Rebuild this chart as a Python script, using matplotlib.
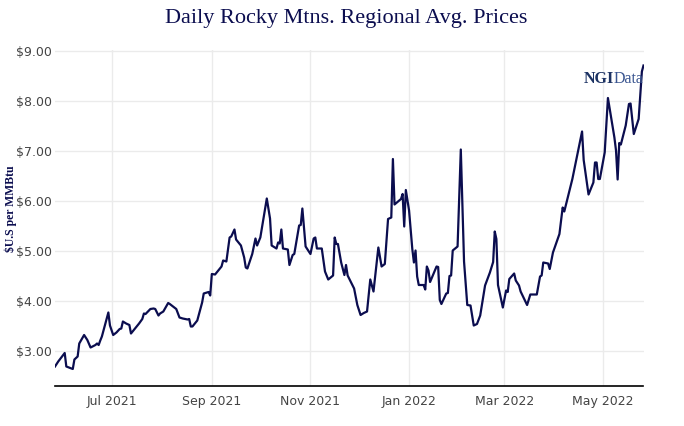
import numpy as np
import pandas as pd
import matplotlib
matplotlib.use("Agg")
import matplotlib.pyplot as plt
import matplotlib.dates as mdates
from matplotlib.ticker import FuncFormatter

# price points (date, $/MMBtu)
dates = [
    "2021-05-27", "2021-05-29", "2021-06-02", "2021-06-03", "2021-06-07", "2021-06-08",
    "2021-06-10", "2021-06-11", "2021-06-14", "2021-06-16", "2021-06-18", "2021-06-21",
    "2021-06-22", "2021-06-23", "2021-06-24", "2021-06-25", "2021-06-29", "2021-06-30",
    "2021-07-02", "2021-07-04", "2021-07-06", "2021-07-07", "2021-07-08", "2021-07-10",
    "2021-07-12", "2021-07-13", "2021-07-14", "2021-07-16", "2021-07-18", "2021-07-20",
    "2021-07-21", "2021-07-22", "2021-07-25", "2021-07-27", "2021-07-28", "2021-07-30",
    "2021-07-31", "2021-08-02", "2021-08-05", "2021-08-06", "2021-08-08", "2021-08-10",
    "2021-08-12", "2021-08-14", "2021-08-17", "2021-08-18", "2021-08-19", "2021-08-20",
    "2021-08-23", "2021-08-26", "2021-08-27", "2021-08-30", "2021-08-31", "2021-09-01",
    "2021-09-03", "2021-09-05", "2021-09-07", "2021-09-08", "2021-09-10", "2021-09-12",
    "2021-09-13", "2021-09-15", "2021-09-16", "2021-09-19", "2021-09-21", "2021-09-22",
    "2021-09-23", "2021-09-26", "2021-09-28", "2021-09-29", "2021-09-30", "2021-10-01",
    "2021-10-05", "2021-10-07", "2021-10-08", "2021-10-11", "2021-10-12", "2021-10-13",
    "2021-10-14", "2021-10-15", "2021-10-18", "2021-10-19", "2021-10-21", "2021-10-22",
    "2021-10-25", "2021-10-26", "2021-10-27", "2021-10-29", "2021-11-01", "2021-11-03",
    "2021-11-04", "2021-11-05", "2021-11-08", "2021-11-10", "2021-11-12", "2021-11-15",
    "2021-11-16", "2021-11-17", "2021-11-18", "2021-11-20", "2021-11-22", "2021-11-23",
    "2021-11-24", "2021-11-28", "2021-11-30", "2021-12-02", "2021-12-04", "2021-12-06",
    "2021-12-08", "2021-12-10", "2021-12-13", "2021-12-15", "2021-12-17", "2021-12-19",
    "2021-12-21", "2021-12-22", "2021-12-23", "2021-12-27", "2021-12-28", "2021-12-29",
    "2021-12-30", "2022-01-01", "2022-01-03", "2022-01-04", "2022-01-05", "2022-01-06",
    "2022-01-07", "2022-01-10", "2022-01-11", "2022-01-12", "2022-01-13", "2022-01-14",
    "2022-01-18", "2022-01-19", "2022-01-20", "2022-01-21", "2022-01-24", "2022-01-25",
    "2022-01-26", "2022-01-27", "2022-01-28", "2022-01-31", "2022-02-02", "2022-02-04",
    "2022-02-06", "2022-02-08", "2022-02-10", "2022-02-12", "2022-02-14", "2022-02-17",
    "2022-02-20", "2022-02-22", "2022-02-23", "2022-02-24", "2022-02-25", "2022-02-28",
    "2022-03-02", "2022-03-03", "2022-03-04", "2022-03-07", "2022-03-08", "2022-03-10",
    "2022-03-11", "2022-03-15", "2022-03-17", "2022-03-21", "2022-03-23", "2022-03-24",
    "2022-03-25", "2022-03-28", "2022-03-29", "2022-03-31", "2022-04-04", "2022-04-06",
    "2022-04-07", "2022-04-12", "2022-04-18", "2022-04-19", "2022-04-22", "2022-04-25",
    "2022-04-26", "2022-04-27", "2022-04-28", "2022-04-29", "2022-05-02", "2022-05-04",
    "2022-05-08", "2022-05-09", "2022-05-10", "2022-05-11", "2022-05-12", "2022-05-15",
    "2022-05-17", "2022-05-18", "2022-05-20", "2022-05-23", "2022-05-25", "2022-05-26",
]
prices = [
    2.68, 2.78, 2.95, 2.68, 2.63, 2.82,
    2.88, 3.14, 3.31, 3.21, 3.06, 3.11,
    3.14, 3.11, 3.20, 3.28, 3.76, 3.50,
    3.31, 3.36, 3.43, 3.44, 3.58, 3.54,
    3.51, 3.34, 3.38, 3.46, 3.54, 3.63,
    3.74, 3.73, 3.83, 3.84, 3.83, 3.70,
    3.74, 3.78, 3.95, 3.93, 3.88, 3.83,
    3.66, 3.64, 3.62, 3.63, 3.48, 3.48,
    3.60, 3.96, 4.14, 4.17, 4.10, 4.53,
    4.52, 4.60, 4.68, 4.80, 4.78, 5.26,
    5.28, 5.42, 5.22, 5.10, 4.86, 4.66,
    4.64, 4.93, 5.24, 5.10, 5.18, 5.26,
    6.04, 5.64, 5.10, 5.04, 5.16, 5.14,
    5.42, 5.04, 5.02, 4.71, 4.91, 4.93,
    5.50, 5.51, 5.84, 5.08, 4.93, 5.24,
    5.26, 5.04, 5.04, 4.58, 4.42, 4.50,
    5.26, 5.13, 5.13, 4.76, 4.51, 4.71,
    4.50, 4.24, 3.91, 3.71, 3.75, 3.78,
    4.42, 4.18, 5.06, 4.68, 4.73, 5.63,
    5.66, 6.83, 5.92, 6.03, 6.13, 5.48,
    6.21, 5.80, 5.03, 4.76, 5.00, 4.48,
    4.31, 4.31, 4.22, 4.68, 4.60, 4.37,
    4.68, 4.67, 4.01, 3.93, 4.14, 4.15,
    4.49, 4.50, 5.00, 5.08, 7.02, 4.78,
    3.91, 3.90, 3.50, 3.53, 3.70, 4.30,
    4.56, 4.77, 5.38, 5.23, 4.31, 3.86,
    4.20, 4.17, 4.43, 4.54, 4.40, 4.30,
    4.18, 3.91, 4.12, 4.12, 4.48, 4.50,
    4.76, 4.74, 4.63, 4.96, 5.33, 5.86,
    5.78, 6.43, 7.38, 6.81, 6.12, 6.36,
    6.76, 6.76, 6.43, 6.43, 6.96, 8.05,
    7.26, 7.00, 6.42, 7.15, 7.12, 7.50,
    7.93, 7.94, 7.33, 7.63, 8.58, 8.70,
]
tick_dates = ["2021-07-01", "2021-09-01", "2021-11-01", "2022-01-01", "2022-03-01", "2022-05-01"]
y_ticks = [3, 4, 5, 6, 7, 8, 9]

navy = "#0b0d4f"
x = pd.to_datetime(dates)

fig = plt.figure(figsize=(6.84, 4.27), dpi=100)
ax = fig.add_axes([55 / 684, 40 / 427, 588.5 / 684, 336.5 / 427])

ax.plot(x, prices, color=navy, lw=1.6, solid_joinstyle="round")

ax.set_xlim(x[0], x[-1])
ax.set_ylim(2.29, 9.02)
ax.set_yticks(y_ticks)
ax.yaxis.set_major_formatter(FuncFormatter(lambda v, p: f"${v:.2f}"))
ax.set_xticks(pd.to_datetime(tick_dates))
ax.xaxis.set_major_formatter(mdates.DateFormatter("%b %Y"))

ax.grid(True, color="#ebebeb", lw=1)
ax.set_axisbelow(True)
for s in ["top", "right", "left"]:
    ax.spines[s].set_visible(False)
ax.spines["bottom"].set_color("black")
ax.spines["bottom"].set_linewidth(1.2)
ax.tick_params(length=0, labelsize=9, labelcolor="#444444", pad=2)
for lab in ax.get_xticklabels() + ax.get_yticklabels():
    lab.set_fontfamily("DejaVu Sans")
ax.tick_params(axis="x", pad=6)

fig.text(0.506, 1 - 18 / 427, "Daily Rocky Mtns. Regional Avg. Prices",
         ha="center", va="center", fontsize=16, color=navy, family="Liberation Serif")
fig.text(10.5 / 684, 218 / 427, "$U.S per MMBtu", rotation=90, ha="center", va="center",
         fontsize=8.5, fontweight="bold", color=navy, family="Liberation Serif")

# NGIData logo text
t1 = ax.text(0.898, 0.903, "NGI", transform=ax.transAxes, ha="left", va="baseline",
             fontsize=11.5, fontweight="bold", color="#1c3263", family="Liberation Serif")
fig.canvas.draw()
bb = t1.get_window_extent().transformed(ax.transAxes.inverted())
ax.text(bb.x1, 0.903, "Data", transform=ax.transAxes, ha="left", va="baseline",
        fontsize=11.5, color="#3a5590", family="Liberation Serif")

fig.savefig("out.png", dpi=100)
